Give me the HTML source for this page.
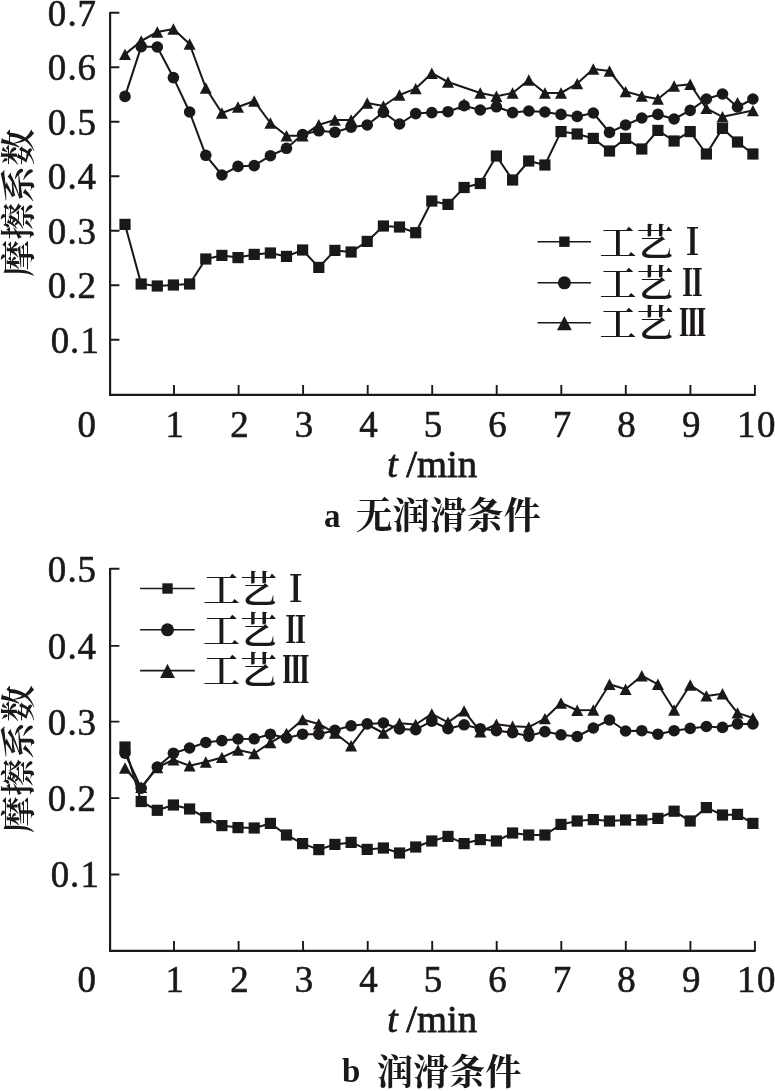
<!DOCTYPE html>
<html lang="zh"><head><meta charset="utf-8"><title>摩擦系数</title>
<style>
html,body{margin:0;padding:0;background:#fff;}
body{width:775px;height:1091px;overflow:hidden;}
svg{display:block;}
text{fill:#1c1819;}
.num{font-family:"Liberation Serif","Noto Serif CJK SC",serif;font-size:36.9px;stroke:#1c1819;stroke-width:0.6px;}
.lat{font-family:"Liberation Serif","Noto Serif CJK SC",serif;font-size:37.5px;stroke:#1c1819;stroke-width:0.8px;}
.cap{font-family:"Liberation Serif","Noto Serif CJK SC",serif;font-weight:700;}
.capl{font-family:"Liberation Serif","Noto Serif CJK SC",serif;font-weight:700;font-size:33px;}
.cjk{font-family:"Liberation Serif","Noto Serif CJK SC",serif;font-size:37px;font-weight:600;}
.rn{font-weight:900;}
</style></head><body>
<svg width="775" height="1091" viewBox="0 0 775 1091">
<rect width="775" height="1091" fill="#fff"/>
<path d="M110.1 12.1V394.9H755.6" fill="none" stroke="#1c1819" stroke-width="2.15"/>
<path d="M110.1 12.8h9.3M110.1 67.3h9.3M110.1 121.8h9.3M110.1 176.3h9.3M110.1 230.8h9.3M110.1 285.3h9.3M110.1 339.8h9.3M174.0 394.9v-9.9M238.6 394.9v-9.9M303.1 394.9v-9.9M367.7 394.9v-9.9M432.2 394.9v-9.9M496.7 394.9v-9.9M561.3 394.9v-9.9M625.8 394.9v-9.9M690.4 394.9v-9.9M754.9 394.9v-9.9" fill="none" stroke="#1c1819" stroke-width="1.9"/>
<text class="num" x="47.8 67.5 77.6" y="25.7">0.7</text>
<text class="num" x="47.8 67.5 77.6" y="80.2">0.6</text>
<text class="num" x="47.8 67.5 77.6" y="134.7">0.5</text>
<text class="num" x="47.8 67.5 77.6" y="189.2">0.4</text>
<text class="num" x="47.8 67.5 77.6" y="243.7">0.3</text>
<text class="num" x="47.8 67.5 77.6" y="298.2">0.2</text>
<text class="num" x="50.8 70 80.5" y="352.7">0.1</text>
<text class="num" x="86.8" y="437" text-anchor="middle">0</text>
<text class="num" x="174.8" y="437" text-anchor="middle">1</text>
<text class="num" x="239.4" y="437" text-anchor="middle">2</text>
<text class="num" x="303.9" y="437" text-anchor="middle">3</text>
<text class="num" x="368.5" y="437" text-anchor="middle">4</text>
<text class="num" x="433.0" y="437" text-anchor="middle">5</text>
<text class="num" x="497.5" y="437" text-anchor="middle">6</text>
<text class="num" x="562.1" y="437" text-anchor="middle">7</text>
<text class="num" x="626.6" y="437" text-anchor="middle">8</text>
<text class="num" x="691.2" y="437" text-anchor="middle">9</text>
<text class="num" x="736.9 756.9" y="437">10</text>
<polyline points="125.0,224.4 141.2,284.0 157.3,286.0 173.4,285.0 189.6,284.0 205.8,259.0 221.9,255.4 238.0,257.6 254.2,254.4 270.4,253.0 286.5,256.4 302.6,250.0 318.8,267.4 334.9,250.4 351.1,252.0 367.2,241.4 383.4,226.0 399.5,227.0 415.7,232.7 431.8,201.0 448.0,204.4 464.1,187.5 480.3,183.5 496.4,156.0 512.6,180.0 528.8,161.0 544.9,165.0 561.0,131.6 577.2,134.0 593.3,138.4 609.5,151.0 625.6,138.4 641.8,149.0 657.9,130.4 674.1,141.0 690.2,131.6 706.4,154.0 722.5,128.4 737.5,142.0 752.9,154.0" fill="none" stroke="#1c1819" stroke-width="2.05" stroke-linejoin="round"/>
<g fill="#1c1819"><rect x="119.4" y="218.8" width="11.2" height="11.2"/><rect x="135.6" y="278.4" width="11.2" height="11.2"/><rect x="151.7" y="280.4" width="11.2" height="11.2"/><rect x="167.8" y="279.4" width="11.2" height="11.2"/><rect x="184.0" y="278.4" width="11.2" height="11.2"/><rect x="200.2" y="253.4" width="11.2" height="11.2"/><rect x="216.3" y="249.8" width="11.2" height="11.2"/><rect x="232.4" y="252.0" width="11.2" height="11.2"/><rect x="248.6" y="248.8" width="11.2" height="11.2"/><rect x="264.8" y="247.4" width="11.2" height="11.2"/><rect x="280.9" y="250.8" width="11.2" height="11.2"/><rect x="297.0" y="244.4" width="11.2" height="11.2"/><rect x="313.2" y="261.8" width="11.2" height="11.2"/><rect x="329.3" y="244.8" width="11.2" height="11.2"/><rect x="345.5" y="246.4" width="11.2" height="11.2"/><rect x="361.6" y="235.8" width="11.2" height="11.2"/><rect x="377.8" y="220.4" width="11.2" height="11.2"/><rect x="393.9" y="221.4" width="11.2" height="11.2"/><rect x="410.1" y="227.1" width="11.2" height="11.2"/><rect x="426.2" y="195.4" width="11.2" height="11.2"/><rect x="442.4" y="198.8" width="11.2" height="11.2"/><rect x="458.5" y="181.9" width="11.2" height="11.2"/><rect x="474.7" y="177.9" width="11.2" height="11.2"/><rect x="490.8" y="150.4" width="11.2" height="11.2"/><rect x="507.0" y="174.4" width="11.2" height="11.2"/><rect x="523.1" y="155.4" width="11.2" height="11.2"/><rect x="539.3" y="159.4" width="11.2" height="11.2"/><rect x="555.4" y="126.0" width="11.2" height="11.2"/><rect x="571.6" y="128.4" width="11.2" height="11.2"/><rect x="587.7" y="132.8" width="11.2" height="11.2"/><rect x="603.9" y="145.4" width="11.2" height="11.2"/><rect x="620.0" y="132.8" width="11.2" height="11.2"/><rect x="636.2" y="143.4" width="11.2" height="11.2"/><rect x="652.3" y="124.8" width="11.2" height="11.2"/><rect x="668.5" y="135.4" width="11.2" height="11.2"/><rect x="684.6" y="126.0" width="11.2" height="11.2"/><rect x="700.8" y="148.4" width="11.2" height="11.2"/><rect x="716.9" y="122.8" width="11.2" height="11.2"/><rect x="731.9" y="136.4" width="11.2" height="11.2"/><rect x="747.3" y="148.4" width="11.2" height="11.2"/></g>
<polyline points="125.0,96.4 141.2,46.6 157.3,47.0 173.4,77.6 189.6,112.0 205.8,155.3 221.9,175.0 238.0,166.4 254.2,165.6 270.4,155.7 286.5,148.3 302.6,134.5 318.8,130.8 334.9,132.2 351.1,127.2 367.2,125.0 383.4,112.4 399.5,124.0 415.7,113.6 431.8,112.6 448.0,111.7 464.1,105.7 480.3,110.0 496.4,106.8 512.6,112.6 528.8,111.0 544.9,112.0 561.0,114.4 577.2,116.4 593.3,113.0 609.5,132.4 625.6,125.0 641.8,118.0 657.9,114.4 674.1,119.0 690.2,110.4 706.4,99.0 722.5,94.0 737.5,107.0 752.9,99.0" fill="none" stroke="#1c1819" stroke-width="2.05" stroke-linejoin="round"/>
<g fill="#1c1819"><circle cx="125.0" cy="96.4" r="5.80"/><circle cx="141.2" cy="46.6" r="5.80"/><circle cx="157.3" cy="47.0" r="5.80"/><circle cx="173.4" cy="77.6" r="5.80"/><circle cx="189.6" cy="112.0" r="5.80"/><circle cx="205.8" cy="155.3" r="5.80"/><circle cx="221.9" cy="175.0" r="5.80"/><circle cx="238.0" cy="166.4" r="5.80"/><circle cx="254.2" cy="165.6" r="5.80"/><circle cx="270.4" cy="155.7" r="5.80"/><circle cx="286.5" cy="148.3" r="5.80"/><circle cx="302.6" cy="134.5" r="5.80"/><circle cx="318.8" cy="130.8" r="5.80"/><circle cx="334.9" cy="132.2" r="5.80"/><circle cx="351.1" cy="127.2" r="5.80"/><circle cx="367.2" cy="125.0" r="5.80"/><circle cx="383.4" cy="112.4" r="5.80"/><circle cx="399.5" cy="124.0" r="5.80"/><circle cx="415.7" cy="113.6" r="5.80"/><circle cx="431.8" cy="112.6" r="5.80"/><circle cx="448.0" cy="111.7" r="5.80"/><circle cx="464.1" cy="105.7" r="5.80"/><circle cx="480.3" cy="110.0" r="5.80"/><circle cx="496.4" cy="106.8" r="5.80"/><circle cx="512.6" cy="112.6" r="5.80"/><circle cx="528.8" cy="111.0" r="5.80"/><circle cx="544.9" cy="112.0" r="5.80"/><circle cx="561.0" cy="114.4" r="5.80"/><circle cx="577.2" cy="116.4" r="5.80"/><circle cx="593.3" cy="113.0" r="5.80"/><circle cx="609.5" cy="132.4" r="5.80"/><circle cx="625.6" cy="125.0" r="5.80"/><circle cx="641.8" cy="118.0" r="5.80"/><circle cx="657.9" cy="114.4" r="5.80"/><circle cx="674.1" cy="119.0" r="5.80"/><circle cx="690.2" cy="110.4" r="5.80"/><circle cx="706.4" cy="99.0" r="5.80"/><circle cx="722.5" cy="94.0" r="5.80"/><circle cx="737.5" cy="107.0" r="5.80"/><circle cx="752.9" cy="99.0" r="5.80"/></g>
<polyline points="125.0,54.4 141.2,41.0 157.3,32.0 173.4,29.0 189.6,44.0 205.8,88.0 221.9,113.0 238.0,107.0 254.2,101.0 270.4,123.0 286.5,135.8 302.6,135.8 318.8,124.8 334.9,120.0 351.1,120.0 367.2,103.0 383.4,106.0 399.5,95.0 415.7,88.6 431.8,73.2 448.0,82.0 480.3,93.0 496.4,96.2 512.6,93.0 528.8,80.0 544.9,93.0 561.0,93.0 577.2,83.6 593.3,69.0 609.5,71.0 625.6,91.6 641.8,96.0 657.9,99.0 674.1,86.0 690.2,84.3 706.4,108.4 722.5,116.8 752.9,110.6" fill="none" stroke="#1c1819" stroke-width="2.05" stroke-linejoin="round"/>
<g fill="#1c1819"><path d="M125.0 48.7L131.0 60.1L119.0 60.1Z"/><path d="M141.2 35.3L147.2 46.7L135.2 46.7Z"/><path d="M157.3 26.3L163.3 37.7L151.3 37.7Z"/><path d="M173.4 23.3L179.4 34.7L167.4 34.7Z"/><path d="M189.6 38.3L195.6 49.7L183.6 49.7Z"/><path d="M205.8 82.3L211.8 93.7L199.8 93.7Z"/><path d="M221.9 107.3L227.9 118.7L215.9 118.7Z"/><path d="M238.0 101.3L244.0 112.7L232.0 112.7Z"/><path d="M254.2 95.3L260.2 106.7L248.2 106.7Z"/><path d="M270.4 117.3L276.4 128.7L264.4 128.7Z"/><path d="M286.5 130.1L292.5 141.5L280.5 141.5Z"/><path d="M302.6 130.1L308.6 141.5L296.6 141.5Z"/><path d="M318.8 119.1L324.8 130.5L312.8 130.5Z"/><path d="M334.9 114.3L340.9 125.7L328.9 125.7Z"/><path d="M351.1 114.3L357.1 125.7L345.1 125.7Z"/><path d="M367.2 97.3L373.2 108.7L361.2 108.7Z"/><path d="M383.4 100.3L389.4 111.7L377.4 111.7Z"/><path d="M399.5 89.3L405.5 100.7L393.5 100.7Z"/><path d="M415.7 82.9L421.7 94.3L409.7 94.3Z"/><path d="M431.8 67.5L437.8 78.9L425.8 78.9Z"/><path d="M448.0 76.3L454.0 87.7L442.0 87.7Z"/><path d="M464.1 98.3L470.1 109.7L458.1 109.7Z"/><path d="M480.3 87.3L486.3 98.7L474.3 98.7Z"/><path d="M496.4 90.5L502.4 101.9L490.4 101.9Z"/><path d="M512.6 87.3L518.6 98.7L506.6 98.7Z"/><path d="M528.8 74.3L534.8 85.7L522.8 85.7Z"/><path d="M544.9 87.3L550.9 98.7L538.9 98.7Z"/><path d="M561.0 87.3L567.0 98.7L555.0 98.7Z"/><path d="M577.2 77.9L583.2 89.3L571.2 89.3Z"/><path d="M593.3 63.3L599.3 74.7L587.3 74.7Z"/><path d="M609.5 65.3L615.5 76.7L603.5 76.7Z"/><path d="M625.6 85.9L631.6 97.3L619.6 97.3Z"/><path d="M641.8 90.3L647.8 101.7L635.8 101.7Z"/><path d="M657.9 93.3L663.9 104.7L651.9 104.7Z"/><path d="M674.1 80.3L680.1 91.7L668.1 91.7Z"/><path d="M690.2 78.6L696.2 90.0L684.2 90.0Z"/><path d="M706.4 102.7L712.4 114.1L700.4 114.1Z"/><path d="M722.5 111.1L728.5 122.5L716.5 122.5Z"/><path d="M737.5 96.9L743.5 108.3L731.5 108.3Z"/><path d="M752.9 104.9L758.9 116.3L746.9 116.3Z"/></g>
<path d="M537.5 241.7H591M537.5 282.8H591M537.5 322.8H591" stroke="#1c1819" stroke-width="1.6" fill="none"/>
<g fill="#1c1819"><rect x="559.2" y="236.5" width="10.4" height="10.4"/><circle cx="564.4" cy="282.8" r="6.55"/><path d="M564.4 316.0L571.8 330.2L557.0 330.2Z"/></g>
<text class="cjk" x="599.5" y="256.1">工艺</text><text class="cjk rn" transform="translate(692.5,255.1) scale(0.73,1)" text-anchor="middle">Ⅰ</text>
<text class="cjk" x="599.5" y="296.8">工艺</text><text class="cjk rn" transform="translate(692.5,295.8) scale(0.7,1)" text-anchor="middle">Ⅱ</text>
<text class="cjk" x="599.5" y="337.2">工艺</text><text class="cjk rn" transform="translate(692.5,336.2) scale(0.72,1)" text-anchor="middle">Ⅲ</text>
<text class="cjk" transform="translate(30.7,202.8) rotate(-90) scale(1,0.94)" text-anchor="middle" font-size="36.5">摩擦系数</text>
<text class="lat" x="387.3" y="476.8" font-style="italic">t</text><text class="lat" x="406.2" y="476.8" textLength="70.8" lengthAdjust="spacingAndGlyphs">/min</text>
<text class="capl" x="324" y="526.8">a</text><text class="cap" x="355.5" y="529" font-size="37.1">无润滑条件</text>
<path d="M110.1 568.1V950.9H755.6" fill="none" stroke="#1c1819" stroke-width="2.15"/>
<path d="M110.1 568.8h9.3M110.1 645.9h9.3M110.1 721.6h9.3M110.1 798.1h9.3M110.1 874.5h9.3M174.0 950.9v-9.9M238.6 950.9v-9.9M303.1 950.9v-9.9M367.7 950.9v-9.9M432.2 950.9v-9.9M496.7 950.9v-9.9M561.3 950.9v-9.9M625.8 950.9v-9.9M690.4 950.9v-9.9M754.9 950.9v-9.9" fill="none" stroke="#1c1819" stroke-width="1.9"/>
<text class="num" x="47.8 67.5 77.6" y="581.7">0.5</text>
<text class="num" x="47.8 67.5 77.6" y="658.8">0.4</text>
<text class="num" x="47.8 67.5 77.6" y="734.5">0.3</text>
<text class="num" x="47.8 67.5 77.6" y="811.0">0.2</text>
<text class="num" x="50.8 70 80.5" y="887.4">0.1</text>
<text class="num" x="86.8" y="992.4" text-anchor="middle">0</text>
<text class="num" x="174.8" y="992.4" text-anchor="middle">1</text>
<text class="num" x="239.4" y="992.4" text-anchor="middle">2</text>
<text class="num" x="303.9" y="992.4" text-anchor="middle">3</text>
<text class="num" x="368.5" y="992.4" text-anchor="middle">4</text>
<text class="num" x="433.0" y="992.4" text-anchor="middle">5</text>
<text class="num" x="497.5" y="992.4" text-anchor="middle">6</text>
<text class="num" x="562.1" y="992.4" text-anchor="middle">7</text>
<text class="num" x="626.6" y="992.4" text-anchor="middle">8</text>
<text class="num" x="691.2" y="992.4" text-anchor="middle">9</text>
<text class="num" x="736.9 756.9" y="992.4">10</text>
<polyline points="125.0,747.0 141.2,801.5 157.3,810.3 173.4,805.0 189.6,809.0 205.8,817.7 221.9,825.6 238.0,827.6 254.2,828.0 270.4,823.4 286.5,835.0 302.6,843.6 318.8,849.6 334.9,844.4 351.1,842.4 367.2,849.4 383.4,848.0 399.5,853.0 415.7,847.0 431.8,841.0 448.0,836.4 464.1,843.6 480.3,839.6 496.4,841.0 512.6,833.0 528.8,835.0 544.9,835.0 561.0,824.4 577.2,821.0 593.3,819.6 609.5,821.0 625.6,820.0 641.8,820.0 657.9,818.4 674.1,811.2 690.2,821.0 706.4,807.6 722.5,815.0 737.5,814.4 752.9,823.4" fill="none" stroke="#1c1819" stroke-width="2.05" stroke-linejoin="round"/>
<g fill="#1c1819"><rect x="119.4" y="741.4" width="11.2" height="11.2"/><rect x="135.6" y="795.9" width="11.2" height="11.2"/><rect x="151.7" y="804.7" width="11.2" height="11.2"/><rect x="167.8" y="799.4" width="11.2" height="11.2"/><rect x="184.0" y="803.4" width="11.2" height="11.2"/><rect x="200.2" y="812.1" width="11.2" height="11.2"/><rect x="216.3" y="820.0" width="11.2" height="11.2"/><rect x="232.4" y="822.0" width="11.2" height="11.2"/><rect x="248.6" y="822.4" width="11.2" height="11.2"/><rect x="264.8" y="817.8" width="11.2" height="11.2"/><rect x="280.9" y="829.4" width="11.2" height="11.2"/><rect x="297.0" y="838.0" width="11.2" height="11.2"/><rect x="313.2" y="844.0" width="11.2" height="11.2"/><rect x="329.3" y="838.8" width="11.2" height="11.2"/><rect x="345.5" y="836.8" width="11.2" height="11.2"/><rect x="361.6" y="843.8" width="11.2" height="11.2"/><rect x="377.8" y="842.4" width="11.2" height="11.2"/><rect x="393.9" y="847.4" width="11.2" height="11.2"/><rect x="410.1" y="841.4" width="11.2" height="11.2"/><rect x="426.2" y="835.4" width="11.2" height="11.2"/><rect x="442.4" y="830.8" width="11.2" height="11.2"/><rect x="458.5" y="838.0" width="11.2" height="11.2"/><rect x="474.7" y="834.0" width="11.2" height="11.2"/><rect x="490.8" y="835.4" width="11.2" height="11.2"/><rect x="507.0" y="827.4" width="11.2" height="11.2"/><rect x="523.1" y="829.4" width="11.2" height="11.2"/><rect x="539.3" y="829.4" width="11.2" height="11.2"/><rect x="555.4" y="818.8" width="11.2" height="11.2"/><rect x="571.6" y="815.4" width="11.2" height="11.2"/><rect x="587.7" y="814.0" width="11.2" height="11.2"/><rect x="603.9" y="815.4" width="11.2" height="11.2"/><rect x="620.0" y="814.4" width="11.2" height="11.2"/><rect x="636.2" y="814.4" width="11.2" height="11.2"/><rect x="652.3" y="812.8" width="11.2" height="11.2"/><rect x="668.5" y="805.6" width="11.2" height="11.2"/><rect x="684.6" y="815.4" width="11.2" height="11.2"/><rect x="700.8" y="802.0" width="11.2" height="11.2"/><rect x="716.9" y="809.4" width="11.2" height="11.2"/><rect x="731.9" y="808.8" width="11.2" height="11.2"/><rect x="747.3" y="817.8" width="11.2" height="11.2"/></g>
<polyline points="125.0,753.2 141.2,788.2 157.3,767.0 173.4,753.2 189.6,748.0 205.8,742.5 221.9,740.6 238.0,739.0 254.2,738.8 270.4,734.2 286.5,738.0 302.6,734.2 318.8,734.2 334.9,730.3 351.1,725.8 367.2,723.9 383.4,723.0 399.5,729.0 415.7,729.7 431.8,721.2 448.0,728.7 464.1,724.8 480.3,728.7 496.4,730.6 512.6,732.7 528.8,736.1 544.9,731.6 561.0,734.8 577.2,736.5 593.3,728.0 609.5,720.0 625.6,731.0 641.8,730.7 657.9,734.2 674.1,730.7 690.2,728.4 706.4,726.5 722.5,727.4 737.5,723.9 752.9,723.9" fill="none" stroke="#1c1819" stroke-width="2.05" stroke-linejoin="round"/>
<g fill="#1c1819"><circle cx="125.0" cy="753.2" r="5.80"/><circle cx="141.2" cy="788.2" r="5.80"/><circle cx="157.3" cy="767.0" r="5.80"/><circle cx="173.4" cy="753.2" r="5.80"/><circle cx="189.6" cy="748.0" r="5.80"/><circle cx="205.8" cy="742.5" r="5.80"/><circle cx="221.9" cy="740.6" r="5.80"/><circle cx="238.0" cy="739.0" r="5.80"/><circle cx="254.2" cy="738.8" r="5.80"/><circle cx="270.4" cy="734.2" r="5.80"/><circle cx="286.5" cy="738.0" r="5.80"/><circle cx="302.6" cy="734.2" r="5.80"/><circle cx="318.8" cy="734.2" r="5.80"/><circle cx="334.9" cy="730.3" r="5.80"/><circle cx="351.1" cy="725.8" r="5.80"/><circle cx="367.2" cy="723.9" r="5.80"/><circle cx="383.4" cy="723.0" r="5.80"/><circle cx="399.5" cy="729.0" r="5.80"/><circle cx="415.7" cy="729.7" r="5.80"/><circle cx="431.8" cy="721.2" r="5.80"/><circle cx="448.0" cy="728.7" r="5.80"/><circle cx="464.1" cy="724.8" r="5.80"/><circle cx="480.3" cy="728.7" r="5.80"/><circle cx="496.4" cy="730.6" r="5.80"/><circle cx="512.6" cy="732.7" r="5.80"/><circle cx="528.8" cy="736.1" r="5.80"/><circle cx="544.9" cy="731.6" r="5.80"/><circle cx="561.0" cy="734.8" r="5.80"/><circle cx="577.2" cy="736.5" r="5.80"/><circle cx="593.3" cy="728.0" r="5.80"/><circle cx="609.5" cy="720.0" r="5.80"/><circle cx="625.6" cy="731.0" r="5.80"/><circle cx="641.8" cy="730.7" r="5.80"/><circle cx="657.9" cy="734.2" r="5.80"/><circle cx="674.1" cy="730.7" r="5.80"/><circle cx="690.2" cy="728.4" r="5.80"/><circle cx="706.4" cy="726.5" r="5.80"/><circle cx="722.5" cy="727.4" r="5.80"/><circle cx="737.5" cy="723.9" r="5.80"/><circle cx="752.9" cy="723.9" r="5.80"/></g>
<polyline points="125.0,768.0 141.2,787.3 157.3,767.5 173.4,759.7 189.6,765.8 205.8,762.0 221.9,757.4 238.0,750.0 254.2,753.5 270.4,742.6 286.5,733.5 302.6,719.6 318.8,723.9 334.9,733.0 351.1,745.8 367.2,724.5 383.4,733.0 399.5,723.2 415.7,724.5 431.8,713.9 448.0,722.3 464.1,710.9 480.3,731.7 496.4,724.2 512.6,726.3 528.8,727.1 544.9,718.6 561.0,703.0 577.2,710.3 593.3,710.0 609.5,684.3 625.6,689.2 641.8,675.7 657.9,684.3 674.1,710.0 690.2,685.0 706.4,695.9 722.5,693.8 737.5,712.9 752.9,718.0" fill="none" stroke="#1c1819" stroke-width="2.05" stroke-linejoin="round"/>
<g fill="#1c1819"><path d="M125.0 762.3L131.0 773.7L119.0 773.7Z"/><path d="M141.2 781.6L147.2 793.0L135.2 793.0Z"/><path d="M157.3 761.8L163.3 773.2L151.3 773.2Z"/><path d="M173.4 754.0L179.4 765.4L167.4 765.4Z"/><path d="M189.6 760.1L195.6 771.5L183.6 771.5Z"/><path d="M205.8 756.3L211.8 767.7L199.8 767.7Z"/><path d="M221.9 751.7L227.9 763.1L215.9 763.1Z"/><path d="M238.0 744.3L244.0 755.7L232.0 755.7Z"/><path d="M254.2 747.8L260.2 759.2L248.2 759.2Z"/><path d="M270.4 736.9L276.4 748.3L264.4 748.3Z"/><path d="M286.5 727.8L292.5 739.2L280.5 739.2Z"/><path d="M302.6 713.9L308.6 725.3L296.6 725.3Z"/><path d="M318.8 718.2L324.8 729.6L312.8 729.6Z"/><path d="M334.9 727.3L340.9 738.7L328.9 738.7Z"/><path d="M351.1 740.1L357.1 751.5L345.1 751.5Z"/><path d="M383.4 727.3L389.4 738.7L377.4 738.7Z"/><path d="M399.5 717.5L405.5 728.9L393.5 728.9Z"/><path d="M415.7 718.8L421.7 730.2L409.7 730.2Z"/><path d="M431.8 708.2L437.8 719.6L425.8 719.6Z"/><path d="M448.0 716.6L454.0 728.0L442.0 728.0Z"/><path d="M464.1 705.2L470.1 716.6L458.1 716.6Z"/><path d="M480.3 726.0L486.3 737.4L474.3 737.4Z"/><path d="M496.4 718.5L502.4 729.9L490.4 729.9Z"/><path d="M512.6 720.6L518.6 732.0L506.6 732.0Z"/><path d="M528.8 721.4L534.8 732.8L522.8 732.8Z"/><path d="M544.9 712.9L550.9 724.3L538.9 724.3Z"/><path d="M561.0 697.3L567.0 708.7L555.0 708.7Z"/><path d="M577.2 704.6L583.2 716.0L571.2 716.0Z"/><path d="M593.3 704.3L599.3 715.7L587.3 715.7Z"/><path d="M609.5 678.6L615.5 690.0L603.5 690.0Z"/><path d="M625.6 683.5L631.6 694.9L619.6 694.9Z"/><path d="M641.8 670.0L647.8 681.4L635.8 681.4Z"/><path d="M657.9 678.6L663.9 690.0L651.9 690.0Z"/><path d="M674.1 704.3L680.1 715.7L668.1 715.7Z"/><path d="M690.2 679.3L696.2 690.7L684.2 690.7Z"/><path d="M706.4 690.2L712.4 701.6L700.4 701.6Z"/><path d="M722.5 688.1L728.5 699.5L716.5 699.5Z"/><path d="M737.5 707.2L743.5 718.6L731.5 718.6Z"/><path d="M752.9 712.3L758.9 723.7L746.9 723.7Z"/></g>
<path d="M140.1 588.5H194.8M140.1 629.8H194.8M140.1 670.6H194.8" stroke="#1c1819" stroke-width="1.6" fill="none"/>
<g fill="#1c1819"><rect x="162.3" y="583.3" width="10.4" height="10.4"/><circle cx="167.5" cy="629.8" r="6.55"/><path d="M167.5 663.8L174.9 678.0L160.1 678.0Z"/></g>
<text class="cjk" x="203" y="603.3">工艺</text><text class="cjk rn" transform="translate(295.8,602.3) scale(0.73,1)" text-anchor="middle">Ⅰ</text>
<text class="cjk" x="203" y="643.8">工艺</text><text class="cjk rn" transform="translate(295.8,642.8) scale(0.7,1)" text-anchor="middle">Ⅱ</text>
<text class="cjk" x="203" y="684.2">工艺</text><text class="cjk rn" transform="translate(295.8,683.2) scale(0.72,1)" text-anchor="middle">Ⅲ</text>
<text class="cjk" transform="translate(30.7,759) rotate(-90) scale(1,0.94)" text-anchor="middle" font-size="36.5">摩擦系数</text>
<text class="lat" x="387.3" y="1032.3" font-style="italic">t</text><text class="lat" x="406.2" y="1032.3" textLength="70.8" lengthAdjust="spacingAndGlyphs">/min</text>
<text class="capl" x="342" y="1082">b</text><text class="cap" x="376.8" y="1085" font-size="36.2">润滑条件</text>
</svg>
</body></html>
